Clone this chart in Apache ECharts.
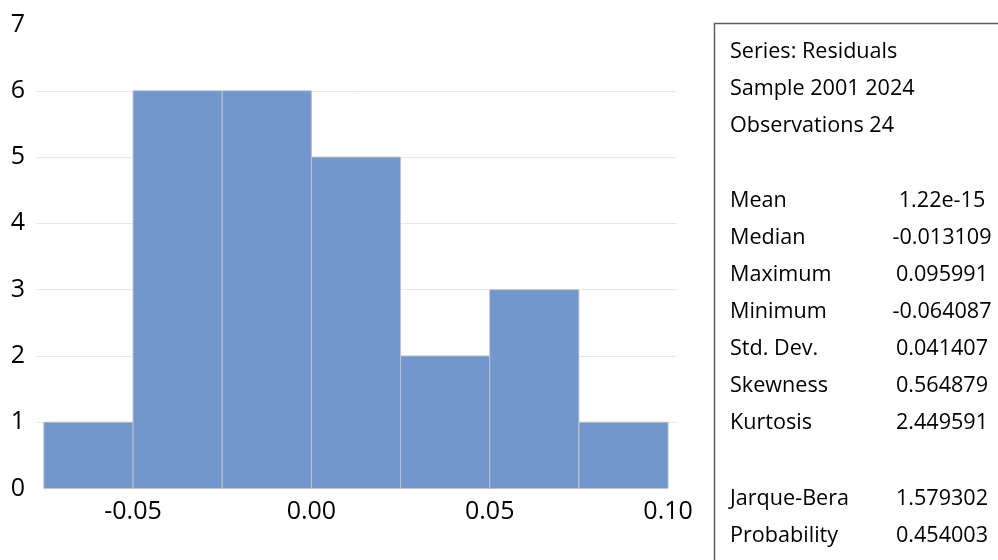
<!DOCTYPE html>
<html>
<head>
<meta charset="utf-8">
<script src="https://cdn.jsdelivr.net/npm/echarts@6/dist/echarts.min.js"></script>
<style>
  html, body { margin: 0; padding: 0; background: #fff; }
  #main { width: 998px; height: 560px; }
</style>
</head>
<body>
<div id="main"></div>
<script>
// histogram bins (left edges) and counts
var binStarts = [-0.075, -0.05, -0.025, 0, 0.025, 0.05, 0.075];
var binWidth = 0.025;
var counts = [1, 6, 6, 5, 2, 3, 1];
var xTicks = [-0.05, 0, 0.05, 0.10];

// stats table
var headLines = ['Series: Residuals', 'Sample 2001 2024', 'Observations 24'];
var statNames = ['Mean', 'Median', 'Maximum', 'Minimum', 'Std. Dev.', 'Skewness', 'Kurtosis'];
var statValues = ['1.22e-15', '-0.013109', '0.095991', '-0.064087', '0.041407', '0.564879', '2.449591'];
var testNames = ['Jarque-Bera', 'Probability'];
var testValues = ['1.579302', '0.454003'];

var FONT = '"Open Sans", sans-serif';
var chart = echarts.init(document.getElementById('main'));

var barData = [];
for (var i = 0; i < binStarts.length; i++) {
    barData.push([binStarts[i], binStarts[i] + binWidth, counts[i]]);
}

// side box with the statistics
var graphics = [{
    type: 'rect',
    shape: { x: 714.5, y: 23.5, width: 400, height: 600 },
    style: { fill: '#fff', stroke: '#5e5e5e', lineWidth: 1.5 }
}];
function addText(txt, x, y, align) {
    graphics.push({
        type: 'text', x: x, y: y,
        style: { text: txt, fill: '#000', font: '21.6px ' + FONT, textAlign: align, textVerticalAlign: 'middle' }
    });
}
var rowH = 37.1;
headLines.forEach(function (t, k) { addText(t, 730, 51.5 + k * rowH, 'left'); });
statNames.forEach(function (t, k) {
    addText(t, 730, 200.5 + k * rowH, 'left');
    addText(statValues[k], 942, 200.5 + k * rowH, 'center');
});
testNames.forEach(function (t, k) {
    addText(t, 730, 498.5 + k * rowH, 'left');
    addText(testValues[k], 942, 498.5 + k * rowH, 'center');
});

var option = {
    animation: false,
    backgroundColor: '#fff',
    grid: { left: 36, right: 321, top: 24.5, bottom: 71.5, containLabel: false },
    xAxis: {
        type: 'value',
        min: -0.0772,
        max: 0.1025,
        axisLine: { show: false },
        axisTick: { show: false },
        splitLine: { show: false },
        axisLabel: {
            customValues: xTicks,
            margin: 11,
            color: '#000',
            fontSize: 25,
            fontFamily: FONT,
            formatter: function (v) { return v.toFixed(2); }
        }
    },
    yAxis: {
        type: 'value',
        min: 0,
        max: 7,
        interval: 1,
        axisLine: { show: false },
        axisTick: { show: false },
        splitLine: { show: true, showMinLine: false, showMaxLine: false, lineStyle: { color: '#e8e8e8', width: 1 } },
        axisLabel: { margin: 11, color: '#000', fontSize: 25, fontFamily: FONT }
    },
    series: [{
        type: 'custom',
        data: barData,
        encode: { x: [0, 1], y: 2 },
        renderItem: function (params, api) {
            var p0 = api.coord([api.value(0), api.value(2)]);
            var p1 = api.coord([api.value(1), 0]);
            return {
                type: 'rect',
                shape: { x: p0[0], y: p0[1], width: p1[0] - p0[0], height: p1[1] - p0[1] },
                style: { fill: '#7396cc', stroke: '#bfc3c9', lineWidth: 1 }
            };
        }
    }],
    graphic: graphics
};
chart.setOption(option);
</script>
</body>
</html>
